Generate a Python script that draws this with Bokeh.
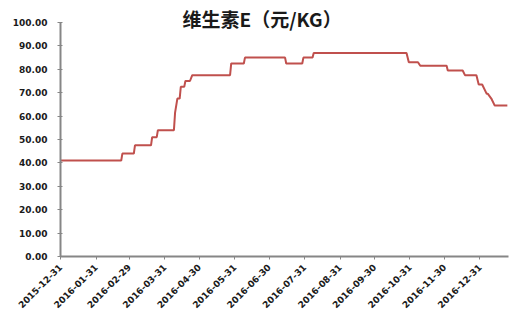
import math
from datetime import datetime
from bokeh.plotting import figure
from bokeh.models import Range1d, FixedTicker, Label
from bokeh.embed import file_html
from bokeh.resources import INLINE

# ---- data ----
dates = [
    "2015-12-31", "2016-02-22", "2016-02-23", "2016-03-04", "2016-03-05",
    "2016-03-19", "2016-03-20", "2016-03-24", "2016-03-25", "2016-04-08",
    "2016-04-09", "2016-04-11", "2016-04-13", "2016-04-14", "2016-04-17",
    "2016-04-18", "2016-04-22", "2016-04-24", "2016-05-27", "2016-05-28",
    "2016-06-08", "2016-06-09", "2016-07-14", "2016-07-15", "2016-07-29",
    "2016-07-30", "2016-08-07", "2016-08-08", "2016-10-28", "2016-10-30",
    "2016-11-07", "2016-11-09", "2016-12-02", "2016-12-03", "2016-12-16",
    "2016-12-18", "2016-12-28", "2016-12-30", "2017-01-02", "2017-01-06",
    "2017-01-07", "2017-01-10", "2017-01-13", "2017-01-24",
]
prices = [
    41.0, 41.0, 44.0, 44.0, 47.5,
    47.5, 51.0, 51.0, 54.0, 54.0,
    61.5, 67.5, 67.5, 72.5, 72.5,
    75.0, 75.0, 77.5, 77.5, 82.5,
    82.5, 85.0, 85.0, 82.5, 82.5,
    85.0, 85.0, 87.0, 87.0, 83.0,
    83.0, 81.5, 81.5, 79.5, 79.5,
    77.5, 77.5, 73.5, 73.5, 69.5,
    69.5, 67.5, 64.5, 64.5,
]
tick_labels = [
    "2015-12-31", "2016-01-31", "2016-02-29", "2016-03-31", "2016-04-30",
    "2016-05-31", "2016-06-30", "2016-07-31", "2016-08-31", "2016-09-30",
    "2016-10-31", "2016-11-30", "2016-12-31",
]
y_ticks = [0, 10, 20, 30, 40, 50, 60, 70, 80, 90, 100]
title_text = "维生素E（元/KG）"


def ms(s):
    return datetime.strptime(s, "%Y-%m-%d").timestamp() * 1000.0


xs = [ms(d) for d in dates]
tick_ms = [ms(d) for d in tick_labels]

p = figure(width=522, height=319, output_backend="svg", toolbar_location=None,
           x_axis_type="datetime",
           x_range=Range1d(ms("2015-12-31"), ms("2017-01-25")),
           y_range=Range1d(0, 109.4),
           min_border_left=60, min_border_right=14,
           min_border_top=0, min_border_bottom=63)
p.outline_line_color = None
p.xgrid.visible = False
p.ygrid.visible = False
p.background_fill_color = "white"
p.border_fill_color = "white"

p.line(xs, prices, line_color="#C0504D", line_width=2)

axis_color = "#868686"
lab_font = "DejaVu Sans"

# y axis
p.yaxis.ticker = FixedTicker(ticks=y_ticks)
p.yaxis.bounds = (0, 100)
p.yaxis.major_label_overrides = {t: f"{t:.2f}" for t in y_ticks}
p.yaxis.axis_line_color = axis_color
p.yaxis.axis_line_width = 2
p.yaxis.major_tick_line_color = axis_color
p.yaxis.major_tick_line_width = 1
p.yaxis.major_tick_in = 2
p.yaxis.major_tick_out = 3
p.yaxis.minor_tick_line_color = None
p.yaxis.major_label_text_font = lab_font
p.yaxis.major_label_text_font_style = "bold"
p.yaxis.major_label_text_font_size = "9px"
p.yaxis.major_label_text_color = "#1a1a1a"
p.yaxis.major_label_standoff = 10

# x axis
p.xaxis.ticker = FixedTicker(ticks=tick_ms)
p.xaxis.major_label_overrides = {t: lab for t, lab in zip(tick_ms, tick_labels)}
p.xaxis.axis_line_color = axis_color
p.xaxis.axis_line_width = 2
p.xaxis.major_tick_line_color = axis_color
p.xaxis.major_tick_line_width = 1
p.xaxis.major_tick_in = 0
p.xaxis.major_tick_out = 3
p.xaxis.minor_tick_line_color = None
p.xaxis.major_label_orientation = math.pi / 4
p.xaxis.major_label_text_font = lab_font
p.xaxis.major_label_text_font_style = "bold"
p.xaxis.major_label_text_font_size = "9px"
p.xaxis.major_label_text_color = "#1a1a1a"
p.xaxis.major_label_standoff = 6

title = Label(x=ms("2016-06-24"), y=101.5, text=title_text,
              text_align="center", text_baseline="middle",
              text_font="Noto Sans CJK SC", text_font_style="bold",
              text_font_size="19px", text_color="#1a1a1a")
p.add_layout(title)

open("out.html", "w").write(file_html(p, INLINE))
